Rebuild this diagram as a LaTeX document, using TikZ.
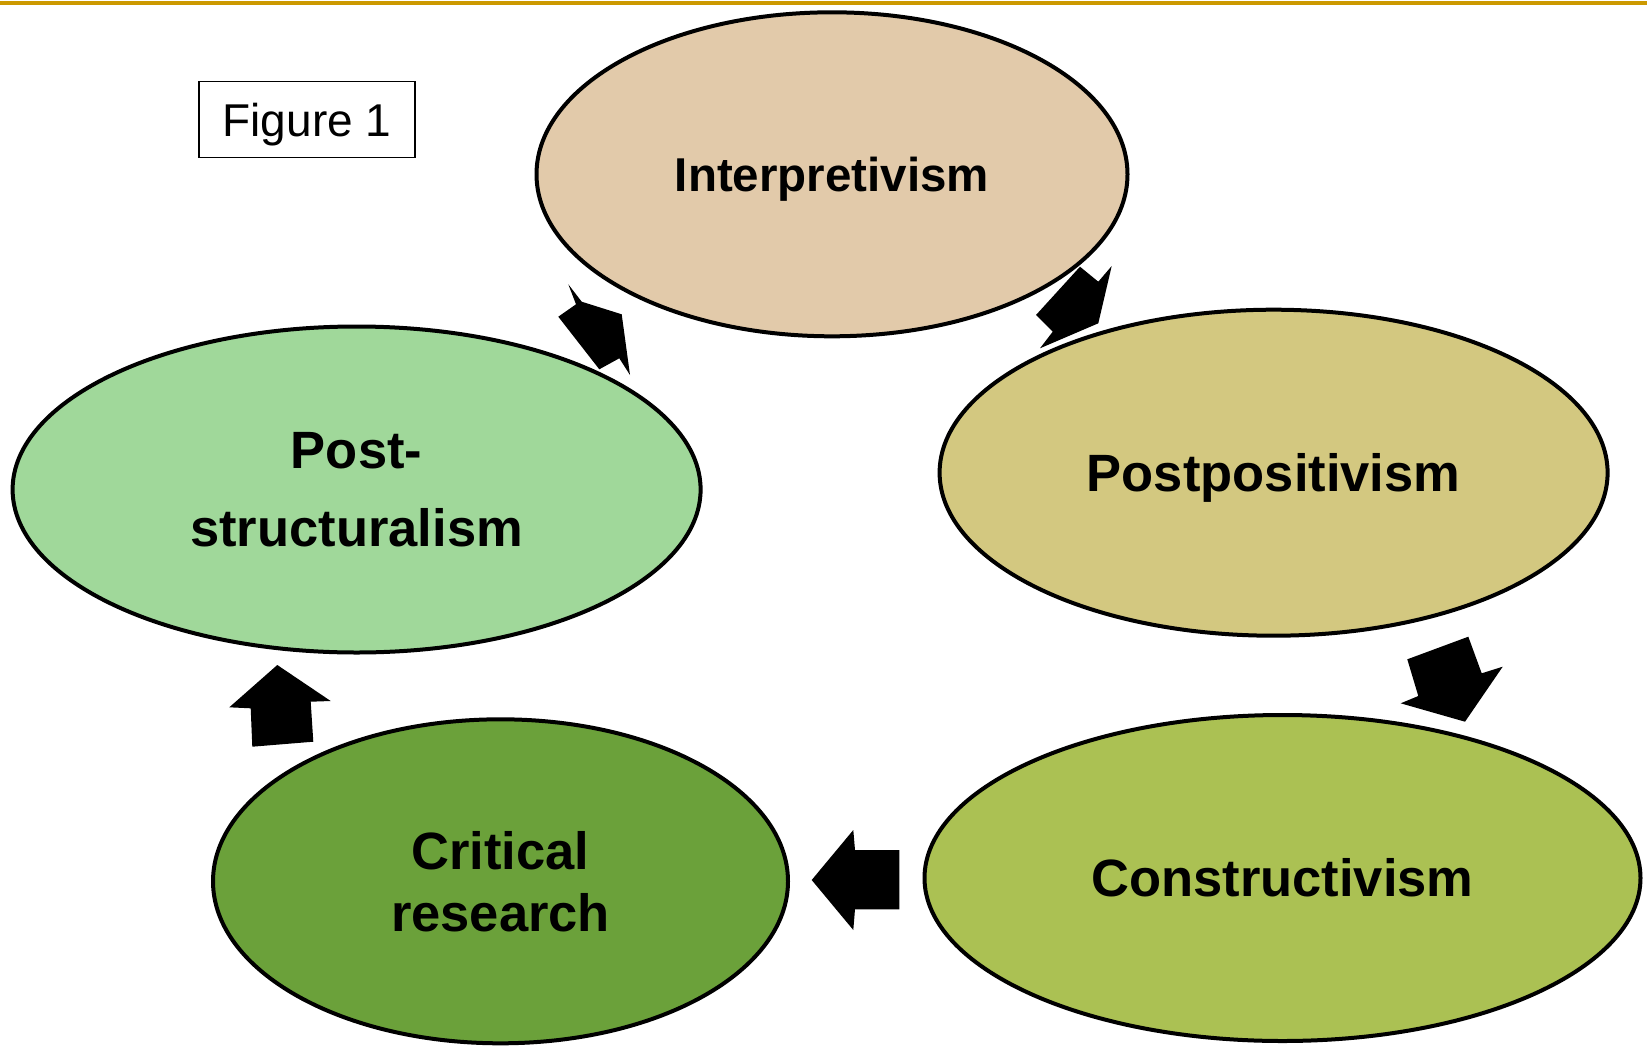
\documentclass[tikz,border=0pt]{standalone}
\usepackage{fontspec}
\setmainfont{Liberation Sans}
\usepackage{tikz}
\usetikzlibrary{shapes.geometric}

\definecolor{rulegold}{RGB}{204,153,0}
\definecolor{interpfill}{RGB}{226,202,170}
\definecolor{postposfill}{RGB}{211,200,128}
\definecolor{constrfill}{RGB}{171,193,83}
\definecolor{critfill}{RGB}{107,161,58}
\definecolor{poststrfill}{RGB}{160,216,154}

\begin{document}
\begin{tikzpicture}[x=1pt, y=-1pt,
	every node/.style={inner sep=0pt, black},
	paradigm/.style={ellipse, draw=black, line width=4pt, align=center,
		font=\bfseries\fontsize{52.5}{78}\selectfont},
	blockarrow/.style={fill=black}
]%pixel grid, y down
\useasboundingbox (0,0) rectangle (1647,1047);

\coordinate (ruleL) at (0,3);
\coordinate (ruleR) at (1647,3);
\draw[rulegold, line width=4pt] (ruleL) -- (ruleR);

% block arrows, clockwise
\fill[blockarrow] (558.3,316.7) -- (576,304.3) -- (568.3,284.3) -- (581.7,301.7) -- (621.7,314.3) -- (630,375) -- (619.3,358.3) -- (599.3,369.3) -- cycle;
\fill[blockarrow] (1036,315) -- (1080,266.7) -- (1098.3,281.7) -- (1111.7,266) -- (1098.3,323.3) -- (1040,348.3) -- (1052.7,331.7) -- cycle;
\fill[blockarrow] (1407.3,659.3) -- (1468.3,636.7) -- (1481.7,673.3) -- (1502.7,666.7) -- (1465,721.7) -- (1400.7,703.3) -- (1418.3,696) -- cycle;
\fill[blockarrow] (899.3,850) -- (855,850) -- (853.3,830) -- (811.7,880) -- (853.3,930) -- (855,909.3) -- (899.3,909.3) -- cycle;
\fill[blockarrow] (252.3,746.7) -- (250.7,708.3) -- (229.3,707.3) -- (277.3,665) -- (330.7,701) -- (310.7,701.7) -- (313.3,741.7) -- cycle;

\node (interp) [paradigm, fill=interpfill, minimum width=591pt, minimum height=324pt, text depth=0pt,
	font=\bfseries\fontsize{47.5}{57}\selectfont] at (832,174.3) {Interpretivism};
\node (postpos) [paradigm, fill=postposfill, minimum width=668pt, minimum height=326pt, text depth=0pt] at (1273.6,472.7) {Postpositivism};
\node (constr) [paradigm, fill=constrfill, minimum width=716pt, minimum height=326pt] at (1282.5,878) {Constructivism};
\node (crit) [paradigm, fill=critfill, minimum width=575pt, minimum height=324pt,
	font=\bfseries\fontsize{52.5}{62}\selectfont] at (500.5,881.3) {Critical\\research};
\node (poststr) [paradigm, fill=poststrfill, minimum width=688pt, minimum height=326pt] at (356.6,489.5) {Post-\\structuralism};

\node (fig) [draw=black, line width=1.5pt, minimum width=216pt, minimum height=76pt, text depth=0pt,
	font=\fontsize{46}{55}\selectfont] at (307,119.5) {Figure 1};
\end{tikzpicture}
\end{document}
